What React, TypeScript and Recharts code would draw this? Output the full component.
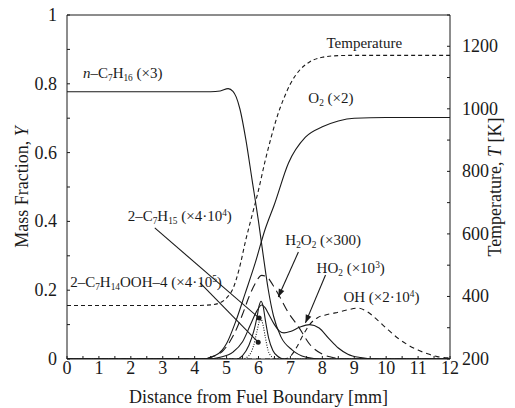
import React from "react";
import {
  LineChart,
  Line,
  XAxis,
  YAxis,
  ReferenceLine,
  ReferenceDot,
} from "recharts";

// distance from fuel boundary [mm] and values for each profile
const tempX = [0, 4.0, 4.5, 4.8, 5.0, 5.2, 5.4, 5.6, 5.8, 6.0, 6.2, 6.4, 6.6, 6.8, 7.0, 7.3, 7.6, 8.0, 8.5, 9, 12];
const tempY = [371, 371, 373, 380, 395, 425, 490, 580, 660, 740, 830, 910, 980, 1035, 1080, 1125, 1150, 1165, 1170, 1171, 1171];

const heptX = [0, 4.5, 4.8, 5.05, 5.2, 5.3, 5.42, 5.6, 5.8, 6.0, 6.15, 6.3, 6.47, 6.7, 7.06, 7.47, 8, 12];
const heptY = [0.777, 0.777, 0.779, 0.786, 0.778, 0.762, 0.726, 0.64, 0.52, 0.4, 0.3, 0.205, 0.125, 0.065, 0.026, 0.006, 0, 0];

const o2X = [0, 4.2, 4.64, 4.86, 5.0, 5.27, 5.58, 5.9, 6.2, 6.5, 6.94, 7.47, 8.0, 8.5, 9, 10, 12];
const o2Y = [0, 0, 0.01, 0.026, 0.045, 0.105, 0.19, 0.28, 0.375, 0.45, 0.57, 0.645, 0.675, 0.692, 0.7, 0.702, 0.702];

const c7h15X = [0, 5.3, 5.5, 5.7, 5.85, 5.95, 6.02, 6.08, 6.14, 6.22, 6.32, 6.45, 6.6, 6.8, 12];
const c7h15Y = [0, 0, 0.01, 0.04, 0.08, 0.12, 0.155, 0.168, 0.155, 0.11, 0.06, 0.025, 0.008, 0, 0];

const oohX = [0, 5.5, 5.7, 5.85, 5.95, 6.03, 6.08, 6.14, 6.22, 6.3, 6.4, 6.5, 12];
const oohY = [0, 0, 0.01, 0.04, 0.08, 0.11, 0.115, 0.1, 0.06, 0.025, 0.008, 0, 0];

const h2o2X = [0, 4.3, 4.6, 4.9, 5.1, 5.3, 5.5, 5.7, 5.9, 6.1, 6.25, 6.45, 6.63, 6.9, 7.25, 7.63, 8.0, 8.3, 8.7, 12];
const h2o2Y = [0, 0, 0.008, 0.025, 0.05, 0.085, 0.13, 0.18, 0.22, 0.243, 0.24, 0.215, 0.187, 0.14, 0.094, 0.04, 0.014, 0.005, 0, 0];

const ho2X = [0, 4.4, 4.8, 5.2, 5.5, 5.75, 5.95, 6.1, 6.2, 6.35, 6.5, 6.65, 6.8, 7.0, 7.3, 7.6, 7.9, 8.2, 8.5, 8.8, 9.2, 9.6, 12];
const ho2Y = [0, 0, 0.005, 0.02, 0.05, 0.1, 0.14, 0.157, 0.15, 0.125, 0.1, 0.082, 0.076, 0.08, 0.093, 0.1, 0.09, 0.06, 0.032, 0.014, 0.004, 0, 0];

const ohX = [0, 6.8, 7.0, 7.2, 7.4, 7.6, 7.85, 8.1, 8.4, 8.8, 9.1, 9.4, 9.73, 10.0, 10.36, 10.7, 11.0, 11.3, 11.6, 12];
const ohY = [0, 0, 0.008, 0.035, 0.07, 0.1, 0.12, 0.128, 0.134, 0.143, 0.148, 0.138, 0.113, 0.09, 0.061, 0.04, 0.026, 0.015, 0.007, 0.003];

const xTicks = [0, 0.5, 1, 1.5, 2, 2.5, 3, 3.5, 4, 4.5, 5, 5.5, 6, 6.5, 7, 7.5, 8, 8.5, 9, 9.5, 10, 10.5, 11, 11.5, 12];
const yTicks = [0, 0.1, 0.2, 0.3, 0.4, 0.5, 0.6, 0.7, 0.8, 0.9, 1];
const tTicks = [200, 300, 400, 500, 600, 700, 800, 900, 1000, 1100, 1200, 1300];

const toPoints = (xs: number[], ys: number[]) => xs.map((x, i) => ({ x, y: ys[i] }));

const FONT = "Liberation Serif";
const INK = "#1a1a1a";

type Part = { t: string; sub?: boolean; sup?: boolean; it?: boolean };

function RichText({ x, y, parts, size = 15 }: { x: number; y: number; parts: Part[]; size?: number }) {
  let shift = 0;
  return (
    <text x={x} y={y} fontFamily={FONT} fontSize={size} fill={INK}>
      {parts.map((p, i) => {
        const target = p.sub ? 3 : p.sup ? -5 : 0;
        const dy = target - shift;
        shift = target;
        return (
          <tspan key={i} dy={dy} fontSize={p.sub || p.sup ? size * 0.62 : size} fontStyle={p.it ? "italic" : "normal"}>
            {p.t}
          </tspan>
        );
      })}
    </text>
  );
}

const textShape = (parts: Part[]) => (props: any) => <RichText x={props.cx} y={props.cy} parts={parts} />;

const arrowShape = (head: boolean) => (props: any) => {
  const { x1, y1, x2, y2 } = props;
  const a = Math.atan2(y2 - y1, x2 - x1);
  const L = 8;
  const W = 3;
  const bx = x2 - L * Math.cos(a);
  const by = y2 - L * Math.sin(a);
  const pts = `${x2},${y2} ${bx + W * Math.sin(a)},${by - W * Math.cos(a)} ${bx - W * Math.sin(a)},${by + W * Math.cos(a)}`;
  return (
    <g>
      <line x1={x1} y1={y1} x2={x2} y2={y2} stroke={INK} strokeWidth={1.1} />
      {head && <polygon points={pts} fill={INK} />}
    </g>
  );
};

const labels: { x: number; y: number; parts: Part[] }[] = [
  { x: 0.5, y: 0.817, parts: [{ t: "n", it: true }, { t: "–C" }, { t: "7", sub: true }, { t: "H" }, { t: "16", sub: true }, { t: " (×3)" }] },
  { x: 8.13, y: 0.905, parts: [{ t: "Temperature" }] },
  { x: 7.56, y: 0.744, parts: [{ t: "O" }, { t: "2", sub: true }, { t: " (×2)" }] },
  { x: 1.9, y: 0.4, parts: [{ t: "2–C" }, { t: "7", sub: true }, { t: "H" }, { t: "15", sub: true }, { t: " (×4·10" }, { t: "4", sup: true }, { t: ")" }] },
  { x: 0.1, y: 0.209, parts: [{ t: "2–C" }, { t: "7", sub: true }, { t: "H" }, { t: "14", sub: true }, { t: "OOH–4 (×4·10" }, { t: "5", sup: true }, { t: ")" }] },
  { x: 6.84, y: 0.331, parts: [{ t: "H" }, { t: "2", sub: true }, { t: "O" }, { t: "2", sub: true }, { t: " (×300)" }] },
  { x: 7.82, y: 0.25, parts: [{ t: "HO" }, { t: "2", sub: true }, { t: " (×10" }, { t: "3", sup: true }, { t: ")" }] },
  { x: 8.66, y: 0.166, parts: [{ t: "OH (×2·10" }, { t: "4", sup: true }, { t: ")" }] },
];

const pointers = [
  { from: { x: 2.75, y: 0.381 }, to: { x: 6.02, y: 0.119 }, head: false },
  { from: { x: 4.17, y: 0.221 }, to: { x: 5.99, y: 0.049 }, head: false },
  { from: { x: 7.25, y: 0.311 }, to: { x: 6.62, y: 0.18 }, head: true },
  { from: { x: 8.1, y: 0.244 }, to: { x: 7.47, y: 0.105 }, head: true },
];

const LeftTitle = (props: any) => {
  const vb = props.viewBox;
  const cx = vb.x + 22;
  const cy = vb.y + vb.height / 2;
  return (
    <text x={cx} y={cy} transform={`rotate(-90 ${cx} ${cy})`} textAnchor="middle" dominantBaseline="central" fontFamily={FONT} fontSize={18} fill={INK}>
      Mass Fraction, <tspan fontStyle="italic">Y</tspan>
    </text>
  );
};

const RightTitle = (props: any) => {
  const vb = props.viewBox;
  const cx = vb.x + vb.width - 20;
  const cy = vb.y + vb.height / 2;
  return (
    <text x={cx} y={cy} transform={`rotate(-90 ${cx} ${cy})`} textAnchor="middle" dominantBaseline="central" fontFamily={FONT} fontSize={18} fill={INK}>
      Temperature, <tspan fontStyle="italic">T</tspan> [K]
    </text>
  );
};

const BottomTitle = (props: any) => {
  const vb = props.viewBox;
  return (
    <text x={vb.x + vb.width / 2} y={vb.y + 44} textAnchor="middle" fontFamily={FONT} fontSize={18} fill={INK}>
      Distance from Fuel Boundary [mm]
    </text>
  );
};

const makeTick = (anchor: string, fmt: (v: number) => string, dy: number) => (props: any) => {
  const { x, y, payload } = props;
  const s = fmt(payload.value);
  if (!s) return <g />;
  return (
    <text x={x} y={y + dy} textAnchor={anchor} fontFamily={FONT} fontSize={18} fill={INK}>
      {s}
    </text>
  );
};

const fmtX = (v: number) => (Number.isInteger(v) ? String(v) : "");
const fmtY = (v: number) => (Math.round(v * 10) % 2 === 0 ? String(Math.round(v * 10) / 10) : "");
const fmtT = (v: number) => (v % 200 === 0 && v <= 1200 ? String(v) : "");

export default function App() {
  const series = [
    { name: "temp", pts: toPoints(tempX, tempY), axis: "right", dash: "4 3" },
    { name: "hept", pts: toPoints(heptX, heptY), axis: "left", dash: undefined },
    { name: "o2", pts: toPoints(o2X, o2Y), axis: "left", dash: undefined },
    { name: "c7h15", pts: toPoints(c7h15X, c7h15Y), axis: "left", dash: undefined },
    { name: "ooh", pts: toPoints(oohX, oohY), axis: "left", dash: "1 1.5" },
    { name: "h2o2", pts: toPoints(h2o2X, h2o2Y), axis: "left", dash: "9 5" },
    { name: "ho2", pts: toPoints(ho2X, ho2Y), axis: "left", dash: undefined },
    { name: "oh", pts: toPoints(ohX, ohY), axis: "left", dash: "5 4" },
  ];

  return (
    <div style={{ position: "absolute", left: 0, top: 0, background: "#fff" }}>
      <LineChart width={515} height={408} margin={{ top: 15, right: 0, bottom: 0, left: 0 }}>
        <XAxis
          type="number"
          dataKey="x"
          domain={[0, 12]}
          ticks={xTicks}
          interval={0}
          allowDataOverflow
          height={49}
          tickSize={-3}
          tickMargin={0}
          tick={makeTick("middle", fmtX, 18)}
          stroke={INK}
          label={<BottomTitle />}
        />
        <YAxis
          yAxisId="left"
          type="number"
          dataKey="y"
          domain={[0, 1]}
          ticks={yTicks}
          interval={0}
          allowDataOverflow
          width={67}
          tickSize={-3}
          tickMargin={13}
          tick={makeTick("end", fmtY, 6)}
          stroke={INK}
          label={<LeftTitle />}
        />
        <YAxis
          yAxisId="right"
          orientation="right"
          type="number"
          dataKey="y"
          domain={[200, 1300]}
          ticks={tTicks}
          interval={0}
          allowDataOverflow
          width={65}
          tickSize={-3}
          tickMargin={15}
          tick={makeTick("start", fmtT, 6)}
          stroke={INK}
          label={<RightTitle />}
        />
        <ReferenceLine yAxisId="left" y={1} stroke={INK} />
        {series.map((s) => (
          <Line
            key={s.name}
            yAxisId={s.axis}
            data={s.pts}
            dataKey="y"
            type="monotone"
            stroke={INK}
            strokeWidth={1.1}
            strokeDasharray={s.dash}
            dot={false}
            activeDot={false}
            isAnimationActive={false}
          />
        ))}
        {pointers.map((p, i) => (
          <ReferenceLine
            key={`ptr-${i}`}
            yAxisId="left"
            segment={[p.from, p.to]}
            shape={arrowShape(p.head)}
          />
        ))}
        {pointers
          .filter((p) => !p.head)
          .map((p, i) => (
            <ReferenceDot key={`dot-${i}`} yAxisId="left" x={p.to.x} y={p.to.y} r={2.5} fill={INK} stroke="none" />
          ))}
        {labels.map((l, i) => (
          <ReferenceDot key={`lbl-${i}`} yAxisId="left" x={l.x} y={l.y} r={1} shape={textShape(l.parts)} />
        ))}
      </LineChart>
    </div>
  );
}
